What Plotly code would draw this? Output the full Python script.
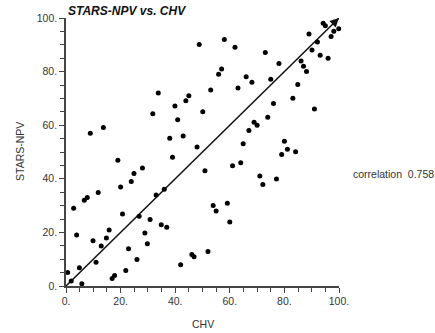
import plotly.graph_objects as go

chv = [48.8, 33.8, 45.0, 43.9, 39.9, 82.0, 94.2, 95.0, 99.9, 98.1,
       97.1, 89.0, 92.1, 90.1, 93.1, 96.0, 86.1, 87.0, 88.1, 84.9,
       83.1, 76.0, 78.0, 73.0, 75.0, 61.9, 58.0, 57.0, 55.9, 66.0,
       68.1, 63.0, 53.0, 31.8, 50.1, 40.9, 8.9, 13.7, 38.0, 42.9,
       48.0, 39.0, 19.0, 28.0, 24.9, 23.9, 20.0, 11.8, 36.0, 33.0,
       50.9, 91.0, 73.9, 68.9, 70.0, 67.0, 64.9, 80.0, 81.1, 84.1,
       79.0, 64.0, 61.0, 71.0, 72.1, 77.1, 7.8, 6.7, 2.8, 20.7,
       26.8, 30.8, 34.9, 36.9, 3.9, 9.9, 15.8, 14.8, 12.9, 28.9,
       29.8, 22.9, 11.0, 26.0, 0.6, 4.9, 1.9, 5.8, 21.9, 17.8,
       16.9, 42.0, 46.1, 46.9, 53.9, 55.0, 59.1, 60.0, 52.0]
stars_npv = [90.1, 72.0, 71.0, 69.1, 67.2, 100.1, 98.0, 97.1, 96.0, 95.1,
             93.1, 94.0, 91.0, 88.1, 86.1, 85.0, 84.0, 82.0, 80.0, 75.2,
             70.1, 68.1, 83.0, 87.1, 77.1, 89.1, 92.0, 81.0, 79.0, 78.1,
             76.0, 73.9, 73.1, 64.3, 65.0, 62.0, 57.0, 59.1, 55.1, 56.0,
             51.9, 48.0, 46.9, 44.0, 42.0, 39.0, 36.9, 34.9, 36.1, 34.0,
             43.0, 66.0, 63.0, 61.1, 60.0, 58.0, 53.1, 54.0, 51.0, 50.1,
             49.1, 46.0, 44.9, 41.0, 37.9, 39.9, 33.0, 32.0, 29.0, 26.9,
             26.0, 24.8, 22.9, 21.9, 19.0, 16.9, 20.9, 17.9, 14.9, 19.8,
             15.8, 13.9, 8.9, 9.9, 5.0, 6.8, 1.9, 0.8, 5.8, 3.9,
             2.8, 7.9, 11.8, 10.9, 30.0, 28.0, 30.9, 23.9, 12.9]
fit_x = [0, 100]
fit_y = [0, 100]
tick_vals = [0, 20, 40, 60, 80, 100]
tick_text = ["0.", "20.", "40.", "60.", "80.", "100."]
correlation = 0.758

FONT = "Liberation Sans, Arial, Helvetica, sans-serif"
AX = "#444444"

fig = go.Figure()
fig.add_trace(go.Scatter(x=fit_x, y=fit_y, mode="lines",
                         line=dict(color="#111111", width=1.5),
                         hoverinfo="skip", cliponaxis=False))
fig.add_trace(go.Scatter(x=chv, y=stars_npv, mode="markers",
                         marker=dict(color="black", size=5),
                         cliponaxis=False))

fig.add_annotation(x=fit_x[1], y=fit_y[1], ax=fit_x[1] - 3, ay=fit_y[1] - 3,
                   axref="x", ayref="y", xref="x", yref="y",
                   text="", showarrow=True, arrowhead=2, arrowsize=1.2,
                   arrowwidth=1.5, arrowcolor="#111111")

axis_common = dict(range=[0, 100], showgrid=False, zeroline=False,
                   showline=True, linecolor=AX, linewidth=1.5,
                   ticks="outside", ticklen=5, tickwidth=1, tickcolor=AX,
                   tickvals=tick_vals, ticktext=tick_text,
                   tickfont=dict(family=FONT, size=10.5, color="#333333"),
                   minor=dict(dtick=5, ticks="outside", ticklen=4,
                              tickcolor=AX, tickwidth=1))

fig.update_layout(
    width=435, height=333,
    margin=dict(l=66, r=96, t=12, b=47),
    paper_bgcolor="white", plot_bgcolor="white",
    showlegend=False,
    xaxis=dict(**axis_common),
    yaxis=dict(**axis_common),
    annotations=list(fig.layout.annotations) + [
        dict(text="<b><i>STARS-NPV vs. CHV</i></b>", xref="paper", yref="paper",
             x=0, y=1, xanchor="left", yanchor="middle", xshift=0, yshift=7,
             showarrow=False, font=dict(family=FONT, size=12, color="#111111")),
        dict(text="CHV", xref="paper", yref="paper", x=0.5, y=0,
             xanchor="center", yanchor="middle", yshift=-38, showarrow=False,
             font=dict(family=FONT, size=10.5, color="#333333")),
        dict(text="STARS-NPV", xref="paper", yref="paper", x=0, y=0.5,
             xanchor="center", yanchor="middle", xshift=-46, textangle=-90,
             showarrow=False, font=dict(family=FONT, size=10.5, color="#333333")),
        dict(text=f"correlation  {correlation}", xref="paper", yref="paper",
             x=1, y=0.4176, xanchor="left", yanchor="middle", xshift=12,
             showarrow=False, font=dict(family=FONT, size=10.5, color="#333333")),
    ],
)

fig.write_html("out.html", config={"displayModeBar": False},
               post_script="document.body.style.margin='0';document.body.style.overflow='hidden';")
